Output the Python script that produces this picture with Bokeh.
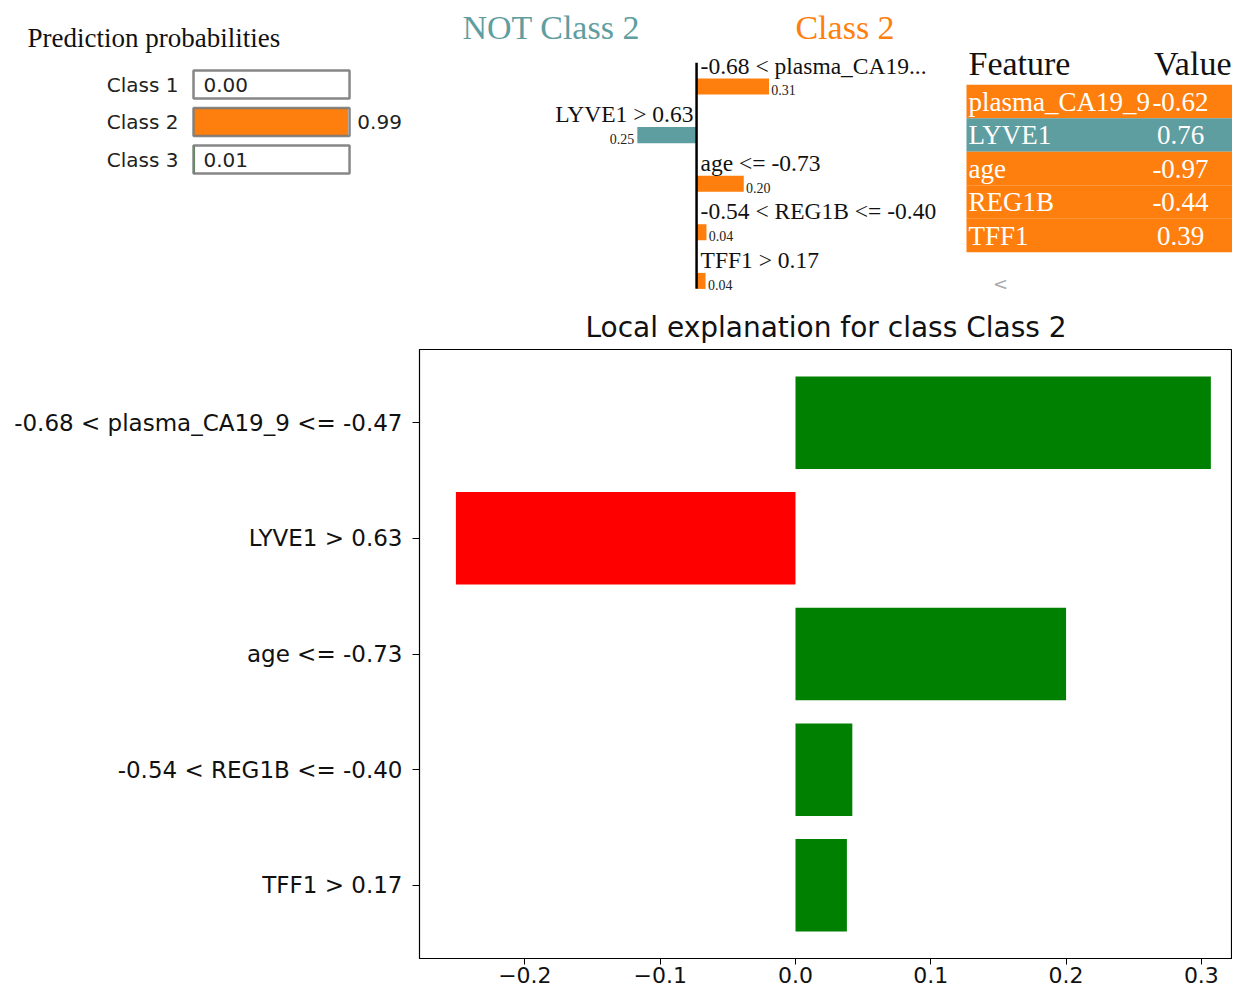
from bokeh.plotting import figure
from bokeh.layouts import row, column
from bokeh.models import Range1d, FactorRange, FixedTicker, CustomJSTickFormatter, ColumnDataSource
from bokeh.core.properties import value
from bokeh.embed import file_html
from bokeh.resources import INLINE

# ---------------- data ----------------
class_names = ["Class 1", "Class 2", "Class 3"]
class_probs = [0.00, 0.99, 0.01]
class_colors = ["#1f77b4", "#ff7f0e", "#2ca02c"]

feature_rules = ["-0.68 < plasma_CA19_9 <= -0.47", "LYVE1 > 0.63", "age <= -0.73",
                 "-0.54 < REG1B <= -0.40", "TFF1 > 0.17"]
short_rules = ["-0.68 < plasma_CA19...", "LYVE1 > 0.63", "age <= -0.73",
               "-0.54 < REG1B <= -0.40", "TFF1 > 0.17"]
weights = [0.307, -0.251, 0.200, 0.042, 0.038]
feature_names = ["plasma_CA19_9", "LYVE1", "age", "REG1B", "TFF1"]
feature_values = [-0.62, 0.76, -0.97, -0.44, 0.39]
x_ticks = [-0.2, -0.1, 0.0, 0.1, 0.2, 0.3]

ORANGE = "#ff7f0e"
TEAL = "#5f9ea0"
SERIF = "Liberation Serif"
SANS = "DejaVu Sans"


def blank(width, height, xr, yr):
    p = figure(width=width, height=height, x_range=xr, y_range=yr, output_backend="svg",
               toolbar_location=None, min_border=0, x_axis_location=None, y_axis_location=None,
               outline_line_color=None, background_fill_color="white", border_fill_color="white")
    p.xgrid.visible = False
    p.ygrid.visible = False
    return p


# ---------------- panel A: prediction probabilities ----------------
cls_idx = list(range(len(class_names)))
pa = blank(440, 300, Range1d(-1.237, 1.583), Range1d(5.76, -2.24))
src_a = ColumnDataSource(dict(
    y=cls_idx, p=class_probs, c=class_colors, name=class_names,
    lab=[f"{v:.2f}" for v in class_probs],
    lx=[1.05 if v > 0.5 else 0.064 for v in class_probs]))
pa.hbar(y="y", left=0, right="p", height=0.75, fill_color="c", line_color=None, source=src_a)
pa.hbar(y="y", left=0, right=1, height=0.75, fill_color=None, line_color="#7a7a7a",
        line_alpha=0.9, line_width=2.5, source=src_a)
pa.text(x=-0.096, y="y", text="name", text_align="right", text_baseline="middle",
        text_font=value(SANS), text_font_size="20px", text_color="#222222", source=src_a)
pa.text(x="lx", y="y", text="lab", text_align="left", text_baseline="middle",
        text_font=value(SANS), text_font_size="20px", text_color="#222222", source=src_a)
pa.text(x=[-1.064], y=[-1.253], text=["Prediction probabilities"], text_align="left",
        text_baseline="middle", text_font=value(SERIF), text_font_size="27px", text_color="#111111")

# ---------------- panel B: LIME bar chart ----------------
fi = list(range(len(weights)))
pb = blank(510, 300, Range1d(-1.085, 1.076), Range1d(4.403, -1.770))
src_b = ColumnDataSource(dict(y=fi, w=weights, c=[ORANGE if w > 0 else TEAL for w in weights]))
pb.hbar(y="y", left=0, right="w", height=0.33, fill_color="c", line_color=None, source=src_b)
pb.segment(x0=[0], y0=[-0.49], x1=[0], y1=[4.16], line_color="black", line_width=2.5)

pos = [i for i in fi if weights[i] > 0]
neg = [i for i in fi if weights[i] <= 0]
src_pos = ColumnDataSource(dict(
    ry=[i - 0.43 for i in pos], rule=[short_rules[i] for i in pos],
    vx=[weights[i] + 0.01 for i in pos], vy=[i + 0.08 for i in pos],
    val=[f"{abs(weights[i]):.2f}" for i in pos]))
src_neg = ColumnDataSource(dict(
    ry=[i - 0.43 for i in neg], rule=[short_rules[i] for i in neg],
    vx=[weights[i] - 0.013 for i in neg], vy=[i + 0.08 for i in neg],
    val=[f"{abs(weights[i]):.2f}" for i in neg]))
pb.text(x=0.017, y="ry", text="rule", text_align="left", text_baseline="middle",
        text_font=value(SERIF), text_font_size="23.5px", text_color="#111111", source=src_pos)
pb.text(x=-0.013, y="ry", text="rule", text_align="right", text_baseline="middle",
        text_font=value(SERIF), text_font_size="23.5px", text_color="#111111", source=src_neg)
pb.text(x="vx", y="vy", text="val", text_align="left", text_baseline="middle",
        text_font=value(SERIF), text_font_size="14px", text_color="#222222", source=src_pos)
pb.text(x="vx", y="vy", text="val", text_align="right", text_baseline="middle",
        text_font=value(SERIF), text_font_size="14px", text_color="#222222", source=src_neg)
pb.text(x=[-0.992], y=[-1.214], text=["NOT Class 2"], text_align="left", text_baseline="middle",
        text_font=value(SERIF), text_font_size="34px", text_color=TEAL)
pb.text(x=[0.419], y=[-1.214], text=["Class 2"], text_align="left", text_baseline="middle",
        text_font=value(SERIF), text_font_size="34px", text_color=ORANGE)

# ---------------- panel C: feature table ----------------
pc = blank(282, 300, Range1d(0, 282), Range1d(5.94, -3.015))
row_colors = [ORANGE if w > 0 else TEAL for w in weights]
src_c = ColumnDataSource(dict(
    top=[i - 0.5 for i in fi], bottom=[i + 0.5 for i in fi], y=fi, c=row_colors,
    name=feature_names, val=[f"{v:.2f}" for v in feature_values]))
pc.quad(left=16, right=282, top="top", bottom="bottom", fill_color="c", line_color=None, source=src_c)
pc.text(x=18, y="y", text="name", text_align="left", text_baseline="middle",
        text_font=value(SERIF), text_font_size="27px", text_color="white", source=src_c)
pc.text(x=230, y="y", text="val", text_align="center", text_baseline="middle",
        text_font=value(SERIF), text_font_size="27px", text_color="white", source=src_c)
pc.text(x=[18], y=[-1.134], text=["Feature"], text_align="left", text_baseline="middle",
        text_font=value(SERIF), text_font_size="34px", text_color="#111111")
pc.text(x=[281], y=[-1.134], text=["Value"], text_align="right", text_baseline="middle",
        text_font=value(SERIF), text_font_size="34px", text_color="#111111")
pc.text(x=[50], y=[5.43], text=["<"], text_align="center", text_baseline="middle",
        text_font=value(SANS), text_font_size="18px", text_color="#aaaaaa")

# ---------------- main chart ----------------
bar_colors = ["green" if w > 0 else "red" for w in weights]
pm = figure(width=1232, height=690, x_range=Range1d(-0.2779, 0.3230),
            y_range=FactorRange(factors=feature_rules[::-1], range_padding=0.053),
            output_backend="svg", toolbar_location=None,
            min_border_left=419, min_border_right=0, min_border_top=49, min_border_bottom=32,
            title="Local explanation for class Class 2",
            background_fill_color="white", border_fill_color="white")
pm.hbar(y=feature_rules, left=0, right=weights, height=0.8, fill_color=bar_colors, line_color=None)

pm.xgrid.visible = False
pm.ygrid.visible = False
pm.outline_line_color = "black"
pm.outline_line_width = 1.2
pm.outline_line_alpha = 1.0

pm.title.align = "center"
pm.title.text_font = SANS
pm.title.text_font_size = "28px"
pm.title.text_font_style = "normal"
pm.title.text_color = "#111111"
pm.title.standoff = 12

xa = pm.xaxis[0]
xa.ticker = FixedTicker(ticks=x_ticks)
xa.formatter = CustomJSTickFormatter(
    code="return (tick < -1e-9 ? '\\u2212' : '') + Math.abs(tick).toFixed(1);")
xa.major_label_text_font = SANS
xa.major_label_text_font_size = "22px"
xa.major_label_text_color = "#111111"
xa.major_tick_out = 6
xa.major_tick_in = 0
xa.minor_tick_out = 0
xa.minor_tick_in = 0
xa.major_label_standoff = 2
xa.axis_line_color = "black"
xa.major_tick_line_color = "black"

ya = pm.yaxis[0]
ya.major_label_text_font = SANS
ya.major_label_text_font_size = "23px"
ya.major_label_text_color = "#111111"
ya.major_tick_out = 7
ya.major_tick_in = 0
ya.major_label_standoff = 10
ya.axis_line_color = "black"
ya.major_tick_line_color = "black"

layout = column(row(pa, pb, pc), pm)

with open("out.html", "w", encoding="utf-8") as f:
    f.write(file_html(layout, INLINE))
